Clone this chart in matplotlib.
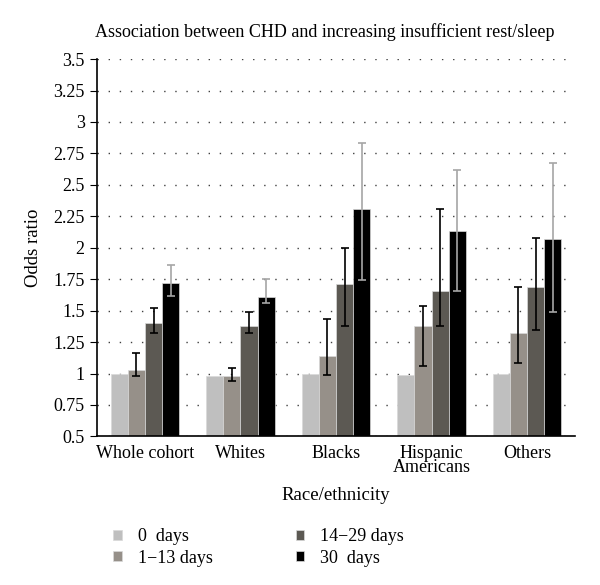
import numpy as np
import matplotlib.pyplot as plt

# groups and odds ratios
groups = ["Whole cohort", "Whites", "Blacks", "Hispanic\nAmericans", "Others"]
series = ["0  days", "1\u221213 days", "14\u221229 days", "30  days"]

or_0 = [1.00, 0.98, 1.00, 0.99, 1.00]
or_1_13 = [1.03, 0.98, 1.14, 1.38, 1.32]
or_14_29 = [1.40, 1.38, 1.71, 1.66, 1.69]
or_30 = [1.72, 1.61, 2.31, 2.13, 2.07]

# 95% confidence limits
lo_1_13 = [0.98, 0.94, 0.99, 1.06, 1.08]
hi_1_13 = [1.16, 1.04, 1.43, 1.54, 1.69]
lo_14_29 = [1.32, 1.32, 1.38, 1.38, 1.35]
hi_14_29 = [1.52, 1.49, 2.00, 2.31, 2.08]
lo_30 = [1.62, 1.56, 1.74, 1.66, 1.49]
hi_30 = [1.86, 1.75, 2.83, 2.62, 2.67]

colors = ["#bfbfbf", "#969089", "#5c5953", "#000000"]
err_colors = [None, "#000000", "#000000", "#a6a6a6"]

plt.rcParams["font.family"] = ["Liberation Serif", "DejaVu Serif"]

fig = plt.figure(figsize=(6, 5.85), dpi=100)
ax = fig.add_axes([0.162, 0.254, 0.796, 0.645])

x = np.arange(len(groups))
w = 0.18
values = [or_0, or_1_13, or_14_29, or_30]
lows = [None, lo_1_13, lo_14_29, lo_30]
highs = [None, hi_1_13, hi_14_29, hi_30]

for i in range(4):
    pos = x + (i - 1.5) * w
    v = np.array(values[i])
    ax.bar(pos, v - 0.5, w, bottom=0.5, color=colors[i], edgecolor="#d9d9d9",
           linewidth=0.5, label=series[i], zorder=2)
    if lows[i] is not None:
        yerr = [v - np.array(lows[i]), np.array(highs[i]) - v]
        ax.errorbar(pos, v, yerr=yerr, fmt="none", ecolor=err_colors[i],
                    elinewidth=1.2, capsize=3, capthick=1.2, zorder=3)

ax.set_ylim(0.5, 3.5)
ax.set_xlim(-0.5, len(groups) - 0.5)
ticks = np.arange(0.5, 3.51, 0.25)
ax.set_yticks(ticks)
ax.set_yticklabels([("%g" % t) for t in ticks])
ax.set_xticks(x)
ax.set_xticklabels(groups, linespacing=0.8)
ax.tick_params(axis="x", length=0, labelsize=13, pad=6)
ax.tick_params(axis="y", direction="out", length=5, labelsize=13, pad=4)

ax.yaxis.grid(True, linestyle=(0, (1, 7)), color="#404040", linewidth=1.0, zorder=0)
ax.set_axisbelow(True)
for s in ["top", "right"]:
    ax.spines[s].set_visible(False)
ax.spines["left"].set_linewidth(1.2)
ax.spines["bottom"].set_linewidth(1.2)

ax.set_ylabel("Odds ratio", fontsize=13.5, labelpad=8)
ax.set_xlabel("Race/ethnicity", fontsize=13.5, labelpad=8)
fig.text(0.542, 0.945, "Association between CHD and increasing insufficient rest/sleep",
         ha="center", va="center", fontsize=13)

ax.legend(loc="upper left", bbox_to_anchor=(0.162, 0.125), bbox_transform=fig.transFigure,
          ncol=2, frameon=False, fontsize=13, handlelength=0.45, handleheight=0.45,
          columnspacing=4.6, labelspacing=0.25, handletextpad=0.9)

fig.savefig("out.png", dpi=100)
